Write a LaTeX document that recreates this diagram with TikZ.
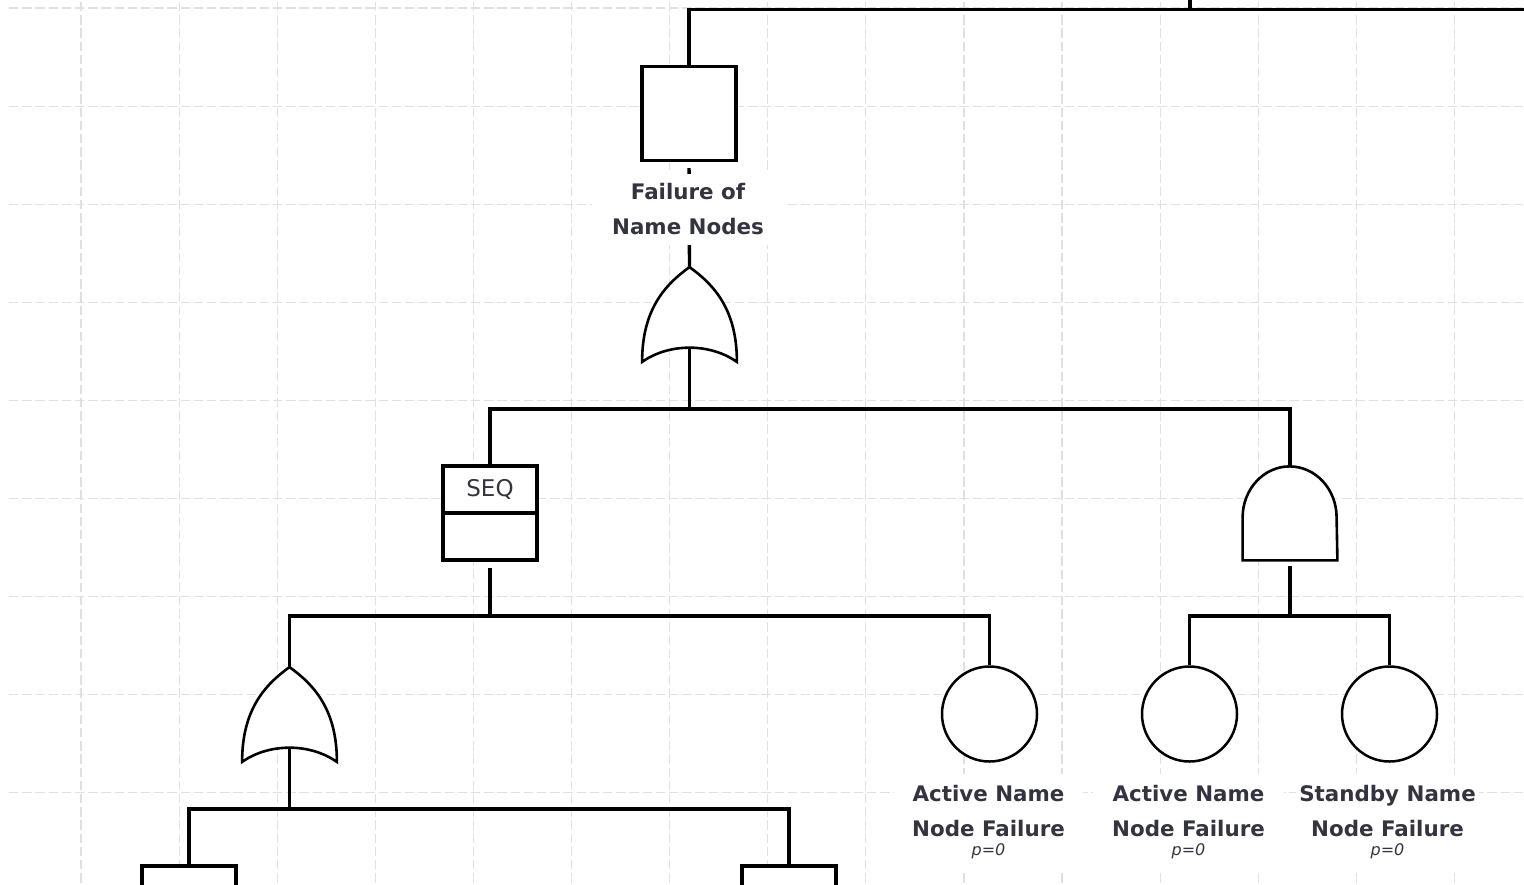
\documentclass[tikz,border=0pt]{standalone}
\usepackage{fontspec}
\setmainfont{DejaVu Sans}
\usetikzlibrary{calc}

\definecolor{gridgray}{HTML}{E0E0E0}
\definecolor{textgray}{HTML}{343440}

\begin{document}
\begin{tikzpicture}[x=0.5pt, y=-0.5pt,
    eventbox/.style={shape=rectangle, draw=black, fill=white, line width=1.6pt, minimum size=47pt, inner sep=0pt},
    gatebox/.style={shape=rectangle, minimum size=47pt, inner sep=0pt},
    basicevent/.style={shape=circle, draw=black, fill=white, line width=1.25pt, minimum size=47.5pt, inner sep=0pt},
    gateline/.style={draw=black, fill=white, line width=1.3pt},
    wire/.style={-, line width=1.7pt, draw=black},
    gridline/.style={draw=gridgray, line width=0.6pt, dash pattern=on 4.7pt off 1.9pt},
    eventlabel/.style={fill=white, align=center, text=textgray, inner sep=0pt,
        font=\fontsize{10.7}{17.5}\selectfont\bfseries}]

% page and grid
\useasboundingbox (0,0) rectangle (1524,884);
\fill[white] (0,0) rectangle (1524,884);
\foreach \gx in {0,...,14} \draw[gridline] (81+98.1*\gx,2) -- (81+98.1*\gx,884);
\foreach \gy in {0,...,8} \draw[gridline] (9,8+98.1*\gy) -- (1524,8+98.1*\gy);

% events and gates
\node[eventbox] (top) at (689,113.5) {};
\node[gatebox] (or1) at (689.5,314.5) {};
\node[eventbox] (seq) at (490,513) {};
\node[gatebox] (and1) at (1290,513) {};
\node[gatebox] (or2) at (289.5,714.5) {};
\node[basicevent] (c1) at (989.5,714) {};
\node[basicevent] (c2) at (1189.5,714) {};
\node[basicevent] (c3) at (1389.5,714) {};
\node[eventbox] (b1) at (189,913) {};
\node[eventbox] (b2) at (789,913) {};

% gate outlines
\draw[gateline] (or1.south west) .. controls +(0,-52) and +(-25,18) .. (or1.north)
  .. controls +(25,18) and +(0,-52) .. (or1.south east)
  .. controls +(-27,-19) and +(27,-19) .. (or1.south west) -- cycle;
\draw[gateline] (or2.south west) .. controls +(0,-52) and +(-25,18) .. (or2.north)
  .. controls +(25,18) and +(0,-52) .. (or2.south east)
  .. controls +(-27,-19) and +(27,-19) .. (or2.south west) -- cycle;
\draw[gateline] (and1.south west) -- ++(0,-43)
  arc[start angle=180, end angle=0, x radius=23.5pt, y radius=25.5pt] -- (and1.south east) -- cycle;
\draw[line width=1.6pt] (seq.west) -- (seq.east);
\node[text=textgray, font=\fontsize{11.5}{13}\selectfont] (seqtext) at (490,489) {SEQ};

% bus points
\coordinate (parent) at (1190,-30);
\coordinate (topbus) at (1190,9.5);
\coordinate (farright) at (1600,9.5);
\coordinate (or1out) at ($(or1.south)+(0,-14)$);
\coordinate (or2out) at ($(or2.south)+(0,-14)$);
\coordinate (bus1) at (689.5,409);
\coordinate (bus2) at (490,616);
\coordinate (bus3) at (289.5,809);
\coordinate (bus4) at (1290,616);

% connectors
\draw[wire] (parent) -- (topbus) -| (top.north);
\draw[wire] (topbus) -- (farright);
\draw[wire, shorten <=3pt] (top.south) -- (or1.north);
\draw[wire] (or1out) -- (bus1);
\draw[wire] (seq.north) |- (bus1) -| (and1.north);
\draw[wire, shorten <=3pt] (seq.south) -- (bus2);
\draw[wire] (or2.north) |- (bus2) -| (c1.north);
\draw[wire, shorten <=3pt] (and1.south) -- (bus4);
\draw[wire] (c2.north) |- (bus4) -| (c3.north);
\draw[wire] (or2out) -- (bus3);
\draw[wire] (b1.north) |- (bus3) -| (b2.north);

% labels
\node[eventlabel, minimum width=96.5pt, minimum height=35.5pt] (toplabel) at (688,209.3) {Failure of\\Name Nodes};
\node[eventlabel, minimum width=94.5pt, minimum height=48.5pt] (c1label) at (988.5,822) {Active Name\\Node Failure\\[-8pt]{\fontsize{8}{9}\selectfont\mdseries\itshape p=0}};
\node[eventlabel, minimum width=95.5pt, minimum height=48.5pt] (c2label) at (1188.5,822) {Active Name\\Node Failure\\[-8pt]{\fontsize{8}{9}\selectfont\mdseries\itshape p=0}};
\node[eventlabel, minimum width=91.5pt, minimum height=48.5pt] (c3label) at (1387.5,822) {Standby Name\\Node Failure\\[-8pt]{\fontsize{8}{9}\selectfont\mdseries\itshape p=0}};
\end{tikzpicture}
\end{document}
